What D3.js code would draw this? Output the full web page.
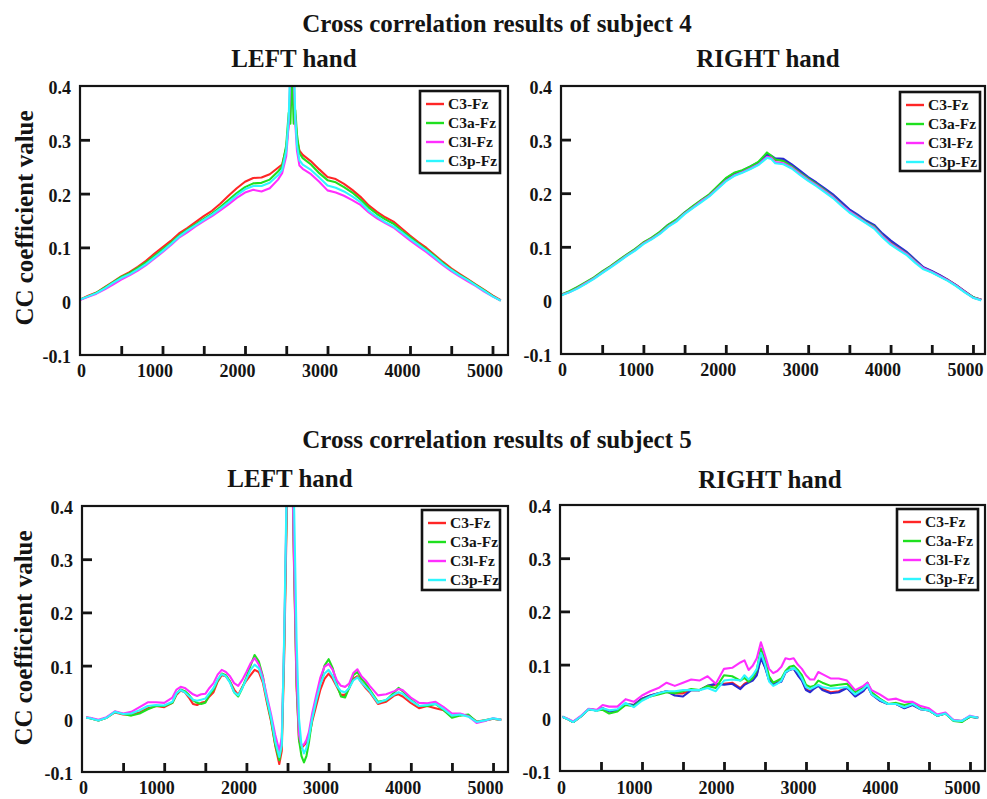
<!DOCTYPE html>
<html>
<head>
<meta charset="utf-8">
<script src="https://cdn.jsdelivr.net/npm/d3@7"></script>
<style>
  html, body { margin: 0; padding: 0; background: #fff; }
  svg { display: block; }
</style>
</head>
<body>
<svg id="chart" width="987" height="799"></svg>
<script>
// ---------- data: cross-correlation coefficient vs. lag (samples) ----------
const legendNames = ["C3-Fz", "C3a-Fz", "C3l-Fz", "C3p-Fz"];
const xTickLabels = [0, 1000, 2000, 3000, 4000, 5000];
const xMinorTicks = [500, 1000, 1500, 2000, 2500, 3000, 3500, 4000, 4500, 5000];
const yTickLabels = [-0.1, 0, 0.1, 0.2, 0.3, 0.4];
const yMinorTicks = [0.1, 0.2, 0.3];

// Subject 4, LEFT hand
const s4LeftLags = [0,100,200,300,400,500,600,700,800,900,1000,1100,1200,1300,1400,1500,1600,1700,1800,1900,2000,2100,2200,2300,2400,
  2450,2500,2530,2550,2570,2590,2610,2630,2660,
  2700,2800,2900,3000,3100,3200,3300,3400,3500,3600,3700,3800,3900,4000,4100,4200,4300,4400,4500,4600,4700,4800,4900,5000,5100];
const s4LeftC3 = [0.003,0.010,0.016,0.026,0.036,0.046,0.054,0.064,0.075,0.088,0.100,0.112,0.126,0.136,0.147,0.158,0.168,0.181,0.196,0.210,0.222,0.229,0.230,0.236,0.248,
  0.254,0.285,0.330,0.380,0.460,0.380,0.340,0.300,0.280,
  0.272,0.260,0.245,0.231,0.227,0.218,0.207,0.194,0.178,0.166,0.156,0.148,0.135,0.122,0.110,0.099,0.086,0.073,0.061,0.051,0.041,0.031,0.021,0.011,0.002];
const s4LeftC3a = [0.003,0.009,0.016,0.025,0.035,0.045,0.052,0.062,0.072,0.084,0.096,0.108,0.122,0.133,0.143,0.153,0.163,0.175,0.188,0.201,0.212,0.219,0.220,0.226,0.241,
  0.250,0.290,0.350,0.330,0.430,0.330,0.355,0.310,0.275,
  0.266,0.254,0.238,0.225,0.221,0.212,0.202,0.189,0.174,0.162,0.152,0.144,0.131,0.119,0.107,0.096,0.084,0.071,0.059,0.049,0.040,0.030,0.020,0.010,0.001];
const s4LeftC3l = [0.002,0.008,0.014,0.022,0.031,0.040,0.048,0.057,0.067,0.079,0.091,0.104,0.118,0.128,0.139,0.149,0.158,0.169,0.180,0.192,0.202,0.207,0.204,0.210,0.226,
  0.238,0.270,0.330,0.420,0.500,0.430,0.330,0.280,0.252,
  0.246,0.236,0.222,0.206,0.202,0.196,0.188,0.179,0.165,0.154,0.145,0.137,0.125,0.113,0.102,0.091,0.079,0.067,0.056,0.046,0.037,0.028,0.018,0.009,0.001];
const s4LeftC3p = [0.003,0.009,0.015,0.024,0.034,0.043,0.050,0.059,0.069,0.081,0.093,0.106,0.120,0.131,0.141,0.151,0.161,0.172,0.184,0.197,0.208,0.214,0.214,0.220,0.234,
  0.244,0.280,0.340,0.450,0.520,0.460,0.340,0.290,0.262,
  0.254,0.244,0.230,0.215,0.211,0.204,0.195,0.184,0.168,0.157,0.147,0.139,0.128,0.116,0.105,0.094,0.082,0.069,0.058,0.048,0.039,0.029,0.019,0.009,0.001];

// Subject 4, RIGHT hand
const s4RightLags = [0,100,200,300,400,500,600,700,800,900,1000,1100,1200,1300,1400,1500,1600,1700,1800,1900,2000,2100,2200,2300,2400,2500,
  2550,
  2600,2700,2800,2900,3000,3100,3200,3300,3400,3500,3600,3700,3800,3900,4000,4100,4200,4300,4400,4500,4600,4700,4800,4900,5000,5100];
const s4RightC3 = [0.010,0.016,0.024,0.032,0.042,0.052,0.063,0.074,0.084,0.095,0.108,0.115,0.126,0.140,0.149,0.163,0.174,0.186,0.196,0.211,0.226,0.236,0.241,0.249,0.257,0.273,
  0.268,
  0.262,0.261,0.252,0.240,0.228,0.218,0.207,0.196,0.182,0.168,0.158,0.147,0.138,0.122,0.109,0.098,0.088,0.074,0.061,0.054,0.046,0.038,0.028,0.017,0.006,0.001];
const s4RightC3a = [0.011,0.017,0.025,0.034,0.043,0.054,0.064,0.075,0.086,0.096,0.108,0.117,0.128,0.141,0.151,0.164,0.176,0.187,0.198,0.213,0.228,0.238,0.243,0.250,0.259,0.276,
  0.270,
  0.263,0.260,0.250,0.238,0.227,0.217,0.206,0.194,0.180,0.166,0.157,0.146,0.138,0.121,0.107,0.097,0.087,0.073,0.060,0.053,0.045,0.037,0.027,0.016,0.006,0.001];
const s4RightC3l = [0.010,0.015,0.023,0.032,0.041,0.052,0.062,0.073,0.084,0.094,0.106,0.115,0.125,0.138,0.148,0.162,0.173,0.185,0.195,0.209,0.223,0.233,0.239,0.246,0.254,0.268,
  0.266,
  0.258,0.256,0.248,0.236,0.225,0.215,0.204,0.193,0.179,0.166,0.156,0.145,0.136,0.120,0.106,0.096,0.086,0.072,0.060,0.053,0.045,0.037,0.027,0.016,0.005,0.001];
const s4RightC3p = [0.009,0.015,0.022,0.031,0.040,0.051,0.061,0.072,0.083,0.093,0.105,0.114,0.124,0.137,0.147,0.161,0.172,0.183,0.194,0.208,0.222,0.232,0.238,0.245,0.253,0.266,
  0.264,
  0.256,0.254,0.246,0.234,0.223,0.213,0.202,0.191,0.177,0.164,0.154,0.144,0.134,0.118,0.104,0.094,0.084,0.070,0.058,0.052,0.044,0.036,0.026,0.015,0.005,0.000];
const s4RightC3z = [0.010,0.016,0.024,0.033,0.042,0.053,0.063,0.074,0.085,0.095,0.107,0.116,0.127,0.141,0.150,0.164,0.175,0.186,0.197,0.212,0.227,0.237,0.242,0.250,0.258,0.272,
  0.270,
  0.265,0.264,0.254,0.242,0.230,0.220,0.209,0.198,0.184,0.170,0.160,0.149,0.141,0.125,0.112,0.101,0.090,0.076,0.062,0.055,0.047,0.038,0.028,0.017,0.006,0.001];

// Subject 5, LEFT hand
const s5LeftLags = [50,100,200,300,400,500,600,700,800,900,1000,1100,
  1150,1200,1250,1300,1350,1400,1450,1500,1550,1600,1650,1700,1750,1800,1850,1900,1950,2000,2050,2100,2150,2200,2250,2300,2350,2400,
  2430,2460,2490,2520,2550,2580,2610,2640,2670,2700,2730,2760,
  2800,2850,2900,2950,3000,3050,3100,3150,3200,3250,3300,3350,3400,3450,3500,
  3600,3700,3800,3850,3900,4000,4100,4200,4300,4400,4500,4600,4700,4800,4900,5000,5100];
const s5LeftC3 = [0.002,0.001,-0.003,0.002,0.012,0.008,0.008,0.012,0.020,0.024,0.022,0.030,
  0.045,0.053,0.050,0.040,0.028,0.026,0.030,0.032,0.042,0.050,0.070,0.082,0.080,0.070,0.055,0.045,0.060,0.072,0.082,0.092,0.088,0.068,0.030,-0.005,-0.050,-0.085,
  -0.060,0.120,0.380,0.600,0.540,0.280,0.060,-0.040,-0.055,-0.050,-0.045,-0.035,
  -0.005,0.025,0.055,0.075,0.085,0.075,0.060,0.045,0.045,0.058,0.075,0.080,0.068,0.058,0.050,
  0.028,0.032,0.044,0.046,0.042,0.030,0.020,0.024,0.020,0.016,0.005,0.008,0.006,-0.005,-0.003,0.000,-0.002];
const s5LeftC3a = [0.003,0.001,-0.003,0.002,0.013,0.009,0.006,0.010,0.018,0.024,0.024,0.030,
  0.047,0.055,0.052,0.045,0.035,0.030,0.028,0.030,0.045,0.055,0.072,0.085,0.082,0.070,0.050,0.042,0.058,0.078,0.100,0.120,0.108,0.080,0.035,-0.002,-0.048,-0.078,
  -0.045,0.140,0.400,0.610,0.550,0.290,0.070,-0.040,-0.070,-0.082,-0.070,-0.045,
  0.000,0.035,0.070,0.100,0.112,0.095,0.065,0.042,0.040,0.058,0.082,0.088,0.075,0.066,0.055,
  0.032,0.035,0.050,0.058,0.052,0.036,0.024,0.024,0.028,0.016,0.002,0.006,0.008,-0.006,-0.003,0.000,-0.002];
const s5LeftC3l = [0.003,0.002,-0.002,0.003,0.014,0.010,0.013,0.022,0.031,0.031,0.030,0.040,
  0.055,0.060,0.058,0.052,0.046,0.043,0.046,0.047,0.058,0.067,0.083,0.092,0.088,0.080,0.067,0.062,0.073,0.088,0.104,0.114,0.102,0.078,0.042,0.008,-0.030,-0.060,
  -0.035,0.150,0.420,0.620,0.560,0.300,0.080,-0.030,-0.050,-0.048,-0.040,-0.025,
  0.010,0.045,0.078,0.098,0.103,0.092,0.072,0.062,0.060,0.066,0.086,0.093,0.080,0.072,0.062,
  0.044,0.046,0.052,0.056,0.054,0.040,0.030,0.029,0.032,0.022,0.010,0.010,0.005,-0.008,-0.004,0.001,-0.002];
const s5LeftC3p = [0.002,0.001,-0.003,0.002,0.013,0.009,0.010,0.016,0.024,0.026,0.025,0.032,
  0.048,0.054,0.050,0.043,0.036,0.034,0.036,0.038,0.048,0.058,0.074,0.084,0.080,0.068,0.050,0.044,0.058,0.075,0.092,0.102,0.095,0.072,0.036,0.002,-0.042,-0.072,
  -0.050,0.160,0.440,0.640,0.600,0.400,0.150,0.000,-0.050,-0.065,-0.055,-0.035,
  0.000,0.035,0.065,0.085,0.092,0.080,0.062,0.052,0.050,0.058,0.072,0.078,0.068,0.060,0.052,
  0.030,0.036,0.046,0.050,0.047,0.034,0.024,0.026,0.028,0.018,0.006,0.008,0.004,-0.006,-0.003,0.001,-0.002];

// Subject 5, RIGHT hand
const s5RightLags = [30,100,160,250,350,450,520,
  600,700,800,900,1000,1100,1200,1300,1400,1500,1600,1700,1800,1900,2000,2100,2200,
  2250,2300,2350,2400,2450,2500,2550,2600,2650,2700,2750,2800,2850,2900,2950,3000,3050,3100,3150,3200,
  3300,3400,3500,3600,3700,3750,3800,
  3900,4000,4100,4200,4300,4400,4500,4600,4700,4800,4900,5000,5100];
const s5RightC3 = [0.002,-0.003,-0.008,0.002,0.016,0.014,0.018,
  0.012,0.014,0.026,0.024,0.036,0.042,0.046,0.050,0.046,0.046,0.052,0.052,0.060,0.062,0.064,0.066,0.056,
  0.064,0.068,0.072,0.082,0.114,0.097,0.072,0.064,0.068,0.070,0.086,0.091,0.093,0.082,0.072,0.054,0.050,0.056,0.061,0.054,
  0.048,0.050,0.057,0.041,0.051,0.061,0.045,
  0.033,0.026,0.026,0.019,0.025,0.016,0.014,0.004,0.008,-0.005,-0.006,0.002,0.000];
const s5RightC3a = [0.002,-0.003,-0.008,0.002,0.016,0.014,0.015,
  0.008,0.012,0.024,0.022,0.034,0.040,0.044,0.048,0.046,0.050,0.054,0.052,0.060,0.056,0.080,0.078,0.070,
  0.075,0.068,0.075,0.090,0.130,0.108,0.078,0.066,0.070,0.074,0.088,0.096,0.098,0.090,0.080,0.062,0.058,0.060,0.070,0.066,
  0.060,0.062,0.064,0.048,0.058,0.066,0.048,
  0.036,0.026,0.028,0.024,0.028,0.018,0.014,0.004,0.008,-0.006,-0.008,0.002,0.000];
const s5RightC3l = [0.002,-0.002,-0.007,0.003,0.017,0.015,0.024,
  0.021,0.021,0.035,0.030,0.042,0.050,0.056,0.066,0.060,0.066,0.072,0.070,0.078,0.064,0.092,0.094,0.104,
  0.108,0.090,0.098,0.112,0.142,0.118,0.092,0.084,0.088,0.096,0.112,0.110,0.112,0.100,0.092,0.080,0.072,0.072,0.086,0.082,
  0.074,0.074,0.070,0.052,0.060,0.066,0.052,
  0.044,0.034,0.036,0.030,0.030,0.022,0.018,0.006,0.010,-0.004,-0.006,0.004,0.000];
const s5RightC3p = [0.002,-0.003,-0.008,0.002,0.016,0.013,0.018,
  0.014,0.016,0.028,0.020,0.032,0.040,0.046,0.050,0.050,0.052,0.052,0.052,0.056,0.050,0.070,0.072,0.070,
  0.080,0.072,0.080,0.092,0.122,0.100,0.068,0.060,0.064,0.070,0.086,0.090,0.094,0.086,0.074,0.058,0.054,0.058,0.062,0.058,
  0.055,0.056,0.058,0.044,0.054,0.062,0.044,
  0.034,0.026,0.026,0.020,0.026,0.016,0.014,0.004,0.008,-0.005,-0.006,0.003,0.000];
const s5RightC3z = [0.002,-0.003,-0.008,0.002,0.016,0.014,0.018,
  0.012,0.014,0.026,0.024,0.036,0.042,0.046,0.050,0.042,0.040,0.052,0.052,0.060,0.064,0.062,0.064,0.054,
  0.062,0.066,0.070,0.080,0.112,0.095,0.070,0.062,0.066,0.068,0.085,0.090,0.092,0.080,0.070,0.052,0.048,0.055,0.060,0.052,
  0.046,0.048,0.056,0.040,0.050,0.060,0.044,
  0.032,0.026,0.026,0.018,0.024,0.016,0.014,0.004,0.008,-0.005,-0.006,0.002,0.000];

// ---------- styling ----------
const FONT = "'Liberation Serif','Times New Roman',Times,serif";
const INK = "#141414";
const seriesColors = {
  "C3-Fz": "#ff2626",
  "C3a-Fz": "#1fe01f",
  "C3l-Fz": "#ff2eff",
  "C3p-Fz": "#2ef6ff",
  "C3z": "#2a2ad2"
};

// panel definitions (plot area in px, lag domain, data, legend box)
const panels = [
  { left: 80, right: 508, top: 86, bottom: 355, xMax: 5188, labelY: 22,
    lags: s4LeftLags,
    series: [["C3-Fz", s4LeftC3], ["C3a-Fz", s4LeftC3a], ["C3l-Fz", s4LeftC3l], ["C3p-Fz", s4LeftC3p]],
    legend: { x: 420, y: 91, w: 80, h: 82 } },
  { left: 561, right: 985, top: 86, bottom: 354, xMax: 5146, labelY: 22,
    lags: s4RightLags,
    series: [["C3-Fz", s4RightC3], ["C3z", s4RightC3z], ["C3a-Fz", s4RightC3a], ["C3l-Fz", s4RightC3l], ["C3p-Fz", s4RightC3p]],
    legend: { x: 900, y: 92, w: 80, h: 79 } },
  { left: 82, right: 508, top: 506, bottom: 772, xMax: 5182, labelY: 22,
    lags: s5LeftLags,
    series: [["C3-Fz", s5LeftC3], ["C3a-Fz", s5LeftC3a], ["C3l-Fz", s5LeftC3l], ["C3p-Fz", s5LeftC3p]],
    legend: { x: 422, y: 510, w: 78, h: 80 } },
  { left: 560, right: 985, top: 505, bottom: 771, xMax: 5183, labelY: 23,
    lags: s5RightLags,
    series: [["C3-Fz", s5RightC3], ["C3z", s5RightC3z], ["C3a-Fz", s5RightC3a], ["C3l-Fz", s5RightC3l], ["C3p-Fz", s5RightC3p]],
    legend: { x: 897, y: 509, w: 81, h: 81 } }
];

const svg = d3.select("#chart");
svg.append("rect").attr("width", 987).attr("height", 799).attr("fill", "#fff");

panels.forEach((p, i) => {
  const x = d3.scaleLinear().domain([0, p.xMax]).range([p.left, p.right]);
  const y = d3.scaleLinear().domain([-0.1, 0.4]).range([p.bottom, p.top]);
  const g = svg.append("g");

  const clipId = "clip" + i;
  svg.append("clipPath").attr("id", clipId)
    .append("rect").attr("x", p.left).attr("y", p.top)
    .attr("width", p.right - p.left).attr("height", p.bottom - p.top);

  // curves
  const line = d3.line().x(d => x(d[0])).y(d => y(d[1]));
  const curves = g.append("g").attr("clip-path", `url(#${clipId})`);
  p.series.forEach(([name, vals]) => {
    const pts = p.lags.map((l, k) => [l, vals[k]]);
    curves.append("path")
      .attr("d", line(pts))
      .attr("fill", "none")
      .attr("stroke", seriesColors[name])
      .attr("stroke-width", 2.1)
      .attr("stroke-linejoin", "round");
  });

  // inward tick marks
  const xTicks = g.append("g").attr("transform", `translate(0,${p.bottom})`)
    .call(d3.axisBottom(x).tickValues(xMinorTicks).tickSize(-9).tickFormat(""));
  xTicks.select(".domain").remove();
  xTicks.selectAll("line").attr("stroke", INK).attr("stroke-width", 2.8);

  const yTicks = g.append("g").attr("transform", `translate(${p.left},0)`)
    .call(d3.axisLeft(y).tickValues(yMinorTicks).tickSize(-10).tickFormat(""));
  yTicks.select(".domain").remove();
  yTicks.selectAll("line").attr("stroke", INK).attr("stroke-width", 2.8);

  // tick labels
  const xLab = g.append("g").attr("transform", `translate(0,${p.bottom})`)
    .call(d3.axisBottom(x).tickValues(xTickLabels).tickSize(0).tickFormat(d => String(d)));
  xLab.select(".domain").remove();
  xLab.selectAll("text")
    .attr("y", p.labelY).attr("dy", 0)
    .attr("dx", d => d === 0 ? 1 : -8)
    .attr("font-family", FONT).attr("font-size", 18).attr("font-weight", "bold")
    .attr("fill", INK);

  const yLab = g.append("g").attr("transform", `translate(${p.left},0)`)
    .call(d3.axisLeft(y).tickValues(yTickLabels).tickSize(0).tickPadding(9)
      .tickFormat(d => d === 0 ? "0" : d.toFixed(1)));
  yLab.select(".domain").remove();
  yLab.selectAll("text")
    .attr("dy", "0.42em")
    .attr("font-family", FONT).attr("font-size", 18).attr("font-weight", "bold")
    .attr("fill", INK);

  // frame
  g.append("rect")
    .attr("x", p.left).attr("y", p.top)
    .attr("width", p.right - p.left).attr("height", p.bottom - p.top)
    .attr("fill", "none").attr("stroke", INK).attr("stroke-width", 2.2);

  // legend
  const L = p.legend;
  const lg = g.append("g");
  lg.append("rect").attr("x", L.x).attr("y", L.y).attr("width", L.w).attr("height", L.h)
    .attr("fill", "#fff").attr("stroke", INK).attr("stroke-width", 2.6);
  legendNames.forEach((name, k) => {
    const cy = L.y + 13 + k * 19;
    lg.append("line").attr("x1", L.x + 6).attr("x2", L.x + 24)
      .attr("y1", cy).attr("y2", cy)
      .attr("stroke", seriesColors[name]).attr("stroke-width", 2.4);
    lg.append("text").attr("x", L.x + 28).attr("y", cy).attr("dy", "0.34em")
      .attr("font-family", FONT).attr("font-size", 15.5).attr("font-weight", "bold")
      .attr("fill", INK).text(name);
  });
});

// titles
const titles = [
  ["Cross correlation results of subject 4", 497, 32],
  ["LEFT hand", 294, 67],
  ["RIGHT hand", 768, 67],
  ["Cross correlation results of subject 5", 497, 448],
  ["LEFT hand", 290, 487],
  ["RIGHT hand", 770, 488]
];
titles.forEach(([t, tx, ty]) => {
  svg.append("text").attr("x", tx).attr("y", ty).attr("text-anchor", "middle")
    .attr("font-family", FONT).attr("font-size", 25).attr("font-weight", "bold")
    .attr("fill", INK).text(t);
});

// y-axis titles
[[33, 218], [32, 638]].forEach(([tx, ty]) => {
  svg.append("text")
    .attr("transform", `translate(${tx},${ty}) rotate(-90)`)
    .attr("text-anchor", "middle")
    .attr("font-family", FONT).attr("font-size", 25).attr("font-weight", "bold")
    .attr("fill", INK).text("CC coefficient value");
});
</script>
</body>
</html>
